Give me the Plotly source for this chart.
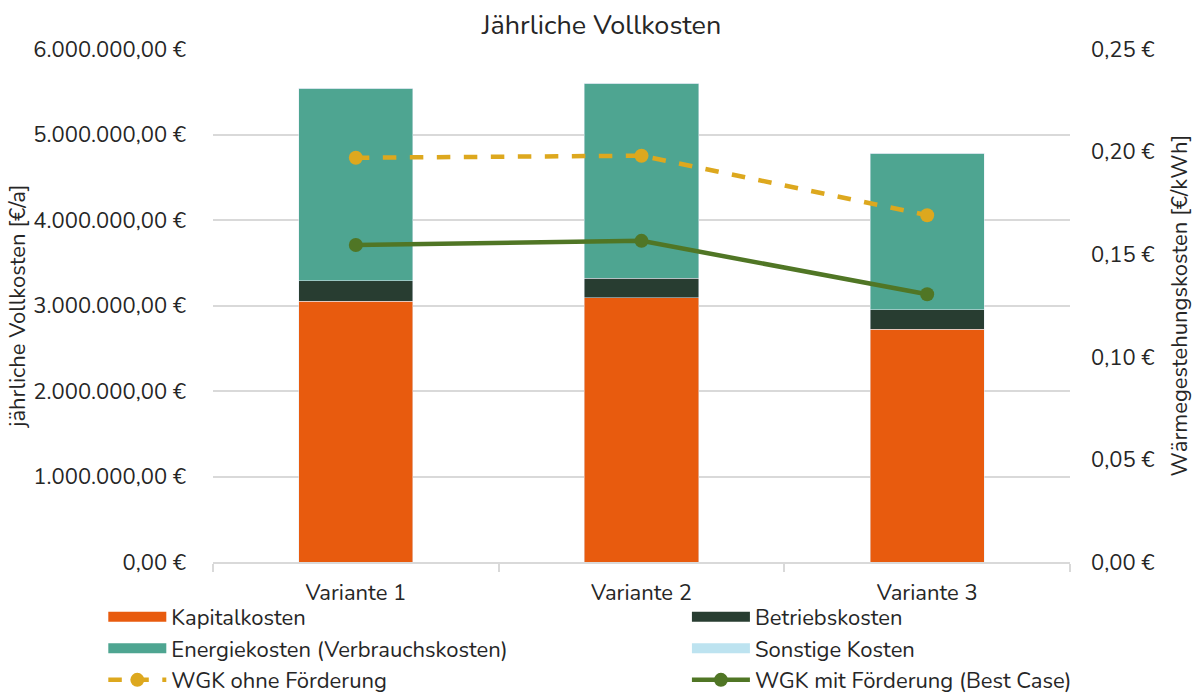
import plotly.graph_objects as go

categories = ["Variante 1", "Variante 2", "Variante 3"]
kapital = [3050000, 3090000, 2720000]
betrieb = [240000, 230000, 230000]
energie = [2250000, 2280000, 1830000]
sonstige = [0, 0, 0]
wgk_ohne = [0.197, 0.198, 0.169]
wgk_mit = [0.1545, 0.1565, 0.1305]

left_vals = [0, 1e6, 2e6, 3e6, 4e6, 5e6, 6e6]
left_text = ["0,00 €", "1.000.000,00 €", "2.000.000,00 €", "3.000.000,00 €",
             "4.000.000,00 €", "5.000.000,00 €", "6.000.000,00 €"]
right_vals = [0, 0.05, 0.10, 0.15, 0.20, 0.25]
right_text = ["0,00 €", "0,05 €", "0,10 €", "0,15 €", "0,20 €", "0,25 €"]

FONT = "Nunito, Lato, sans-serif"
TXT = "#262626"
FS = 22

C_KAP = "#E85B0E"
C_BET = "#283D31"
C_ENE = "#4EA591"
C_SON = "#BDE3F0"
C_OHNE = "#DDA81E"
C_MIT = "#507625"

fig = go.Figure()
fig.add_bar(x=categories, y=kapital, name="Kapitalkosten", marker_color=C_KAP, showlegend=False)
fig.add_bar(x=categories, y=betrieb, name="Betriebskosten", marker_color=C_BET, showlegend=False)
fig.add_bar(x=categories, y=energie, name="Energiekosten (Verbrauchskosten)", marker_color=C_ENE, showlegend=False)
fig.add_bar(x=categories, y=sonstige, name="Sonstige Kosten", marker_color=C_SON, showlegend=False)
fig.add_scatter(x=categories, y=wgk_ohne, name="WGK ohne Förderung", yaxis="y2",
                mode="lines+markers", line=dict(color=C_OHNE, width=4.5, dash="dash"),
                marker=dict(size=14, color=C_OHNE), showlegend=False)
fig.add_scatter(x=categories, y=wgk_mit, name="WGK mit Förderung (Best Case)", yaxis="y2",
                mode="lines+markers", line=dict(color=C_MIT, width=4.5),
                marker=dict(size=14, color=C_MIT), showlegend=False)

# legend entries (two columns like the reference)
def leg_bar(name, color, legend):
    fig.add_scatter(x=[None], y=[None], mode="lines", name=name, legend=legend,
                    legendgroup=name, line=dict(color=color, width=16), hoverinfo="skip")

def leg_line(name, color, dash, legend):
    fig.add_scatter(x=[None], y=[None], mode="lines+markers", name=name, legend=legend,
                    legendgroup=name, line=dict(color=color, width=4.5, dash=dash),
                    marker=dict(size=14, color=color), hoverinfo="skip")

leg_bar("Kapitalkosten", C_KAP, "legend")
leg_bar("Energiekosten (Verbrauchskosten)", C_ENE, "legend")
leg_line("WGK ohne Förderung", C_OHNE, "dash", "legend")
leg_bar("Betriebskosten", C_BET, "legend2")
leg_bar("Sonstige Kosten", C_SON, "legend2")
leg_line("WGK mit Förderung (Best Case)", C_MIT, "solid", "legend2")

legend_common = dict(orientation="v", yanchor="top", y=-0.066, traceorder="normal",
                     font=dict(size=FS, color=TXT), itemwidth=58, tracegroupgap=2,
                     bgcolor="rgba(0,0,0,0)")

fig.update_layout(
    width=1203, height=695,
    barmode="stack", bargap=0.6,
    paper_bgcolor="white", plot_bgcolor="white",
    font=dict(family=FONT, size=FS, color=TXT),
    title=dict(text="Jährliche Vollkosten", x=0.5, xanchor="center", y=0.978, yanchor="top",
               font=dict(size=27, color=TXT)),
    margin=dict(l=213, r=133, t=49, b=133, autoexpand=False),
    xaxis=dict(showgrid=False, showline=True, linecolor="#D9D9D9", linewidth=1.5,
               ticks="outside", tickson="boundaries", ticklen=8, tickcolor="#D9D9D9",
               tickwidth=1.5, tickfont=dict(size=FS, color=TXT), ticklabelstandoff=10),
    yaxis=dict(range=[0, 6e6], tickvals=left_vals, ticktext=left_text,
               gridcolor="#D9D9D9", gridwidth=1.5, zeroline=False, showline=False,
               title=dict(text="jährliche Vollkosten [€/a]", font=dict(size=FS, color=TXT), standoff=0),
               tickfont=dict(size=FS, color=TXT), ticklabelstandoff=26),
    yaxis2=dict(range=[0, 0.25], tickvals=right_vals, ticktext=right_text,
                overlaying="y", side="right", showgrid=False, zeroline=False,
                title=dict(text="Wärmegestehungskosten [€/kWh]", font=dict(size=FS, color=TXT), standoff=18),
                tickfont=dict(size=FS, color=TXT), ticklabelstandoff=20),
    legend=dict(x=-0.128, xanchor="left", **legend_common),
    legend2=dict(x=0.553, xanchor="left", **legend_common),
)

fig.write_html("out.html", config={"displayModeBar": False},
               post_script="document.body.style.margin='0';")
